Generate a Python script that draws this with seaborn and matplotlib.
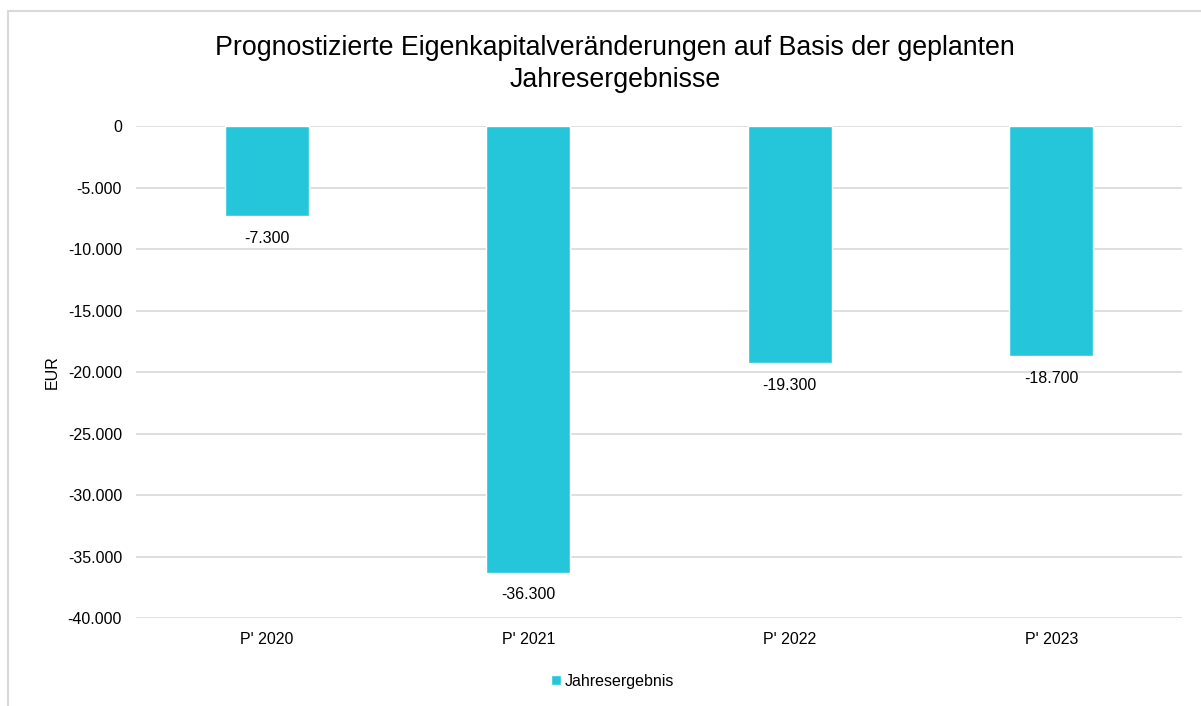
import pandas as pd
import seaborn as sns
import matplotlib.pyplot as plt
from matplotlib.lines import Line2D
from matplotlib.ticker import FuncFormatter, MultipleLocator

sns.set_theme(style="white")
plt.rcParams["font.family"] = ["Liberation Sans", "DejaVu Sans"]
plt.rcParams["text.color"] = "#000000"

jahre = ["P' 2020", "P' 2021", "P' 2022", "P' 2023"]
jahresergebnis = [-7300, -36300, -19300, -18700]
serie = "Jahresergebnis"
farbe = "#26C6DA"

df = pd.DataFrame({"Jahr": jahre, "Wert": jahresergebnis, "Serie": serie})


def de_fmt(v, pos=None):
    s = f"{abs(v):,.0f}".replace(",", ".")
    return ("-" if v < 0 else "") + s


fig = plt.figure(figsize=(12.01, 7.06), dpi=100)
ax = fig.add_axes([0.1132, 0.1246, 0.9842 - 0.1132, 0.8215 - 0.1246])

sns.barplot(data=df, x="Jahr", y="Wert", hue="Serie", palette=[farbe],
            width=0.32, saturation=1, ax=ax, legend=True)

ax.set_ylim(-40000, 0)
ax.yaxis.set_major_locator(MultipleLocator(5000))
ax.yaxis.set_major_formatter(FuncFormatter(de_fmt))
ax.grid(axis="y", color="#D9D9D9", linewidth=1.2)
ax.set_axisbelow(True)
for s in ax.spines.values():
    s.set_visible(False)
ax.tick_params(axis="both", length=0, labelsize=11.5, colors="#000000")
ax.tick_params(axis="y", pad=10)
ax.tick_params(axis="x", pad=10)
ax.set_xlabel("")
ax.set_ylabel("EUR", fontsize=11.5, labelpad=6, color="#000000")
ax.set_xlim(-0.5, 3.5)

# Datenbeschriftungen unter den Balken
for p, v in zip(ax.patches, jahresergebnis):
    x = p.get_x() + p.get_width() / 2
    ax.annotate(de_fmt(v), (x, v), xytext=(0, -16), textcoords="offset points",
                ha="center", va="center", fontsize=11.5, color="#000000")

leg = ax.legend(loc="center", bbox_to_anchor=(0.51, 0.035),
                bbox_transform=fig.transFigure, frameon=False, fontsize=11.5,
                handlelength=0.6, handleheight=0.6, handletextpad=0.2)
for t in leg.get_texts():
    t.set_color("#000000")

fig.text(0.512, 0.909,
         "Prognostizierte Eigenkapitalveränderungen auf Basis der geplanten\nJahresergebnisse",
         ha="center", va="center", fontsize=19.3, linespacing=1.32,
         color="#000000")

# Rahmen des Diagrammbereichs
fig.add_artist(Line2D([8 / 1201, 8 / 1201], [0, 1 - 11 / 706],
                      transform=fig.transFigure, color="#D9D9D9", linewidth=1.5))
fig.add_artist(Line2D([8 / 1201, 1], [1 - 11 / 706, 1 - 11 / 706],
                      transform=fig.transFigure, color="#D9D9D9", linewidth=1.5))

fig.savefig("out.png", dpi=100)
